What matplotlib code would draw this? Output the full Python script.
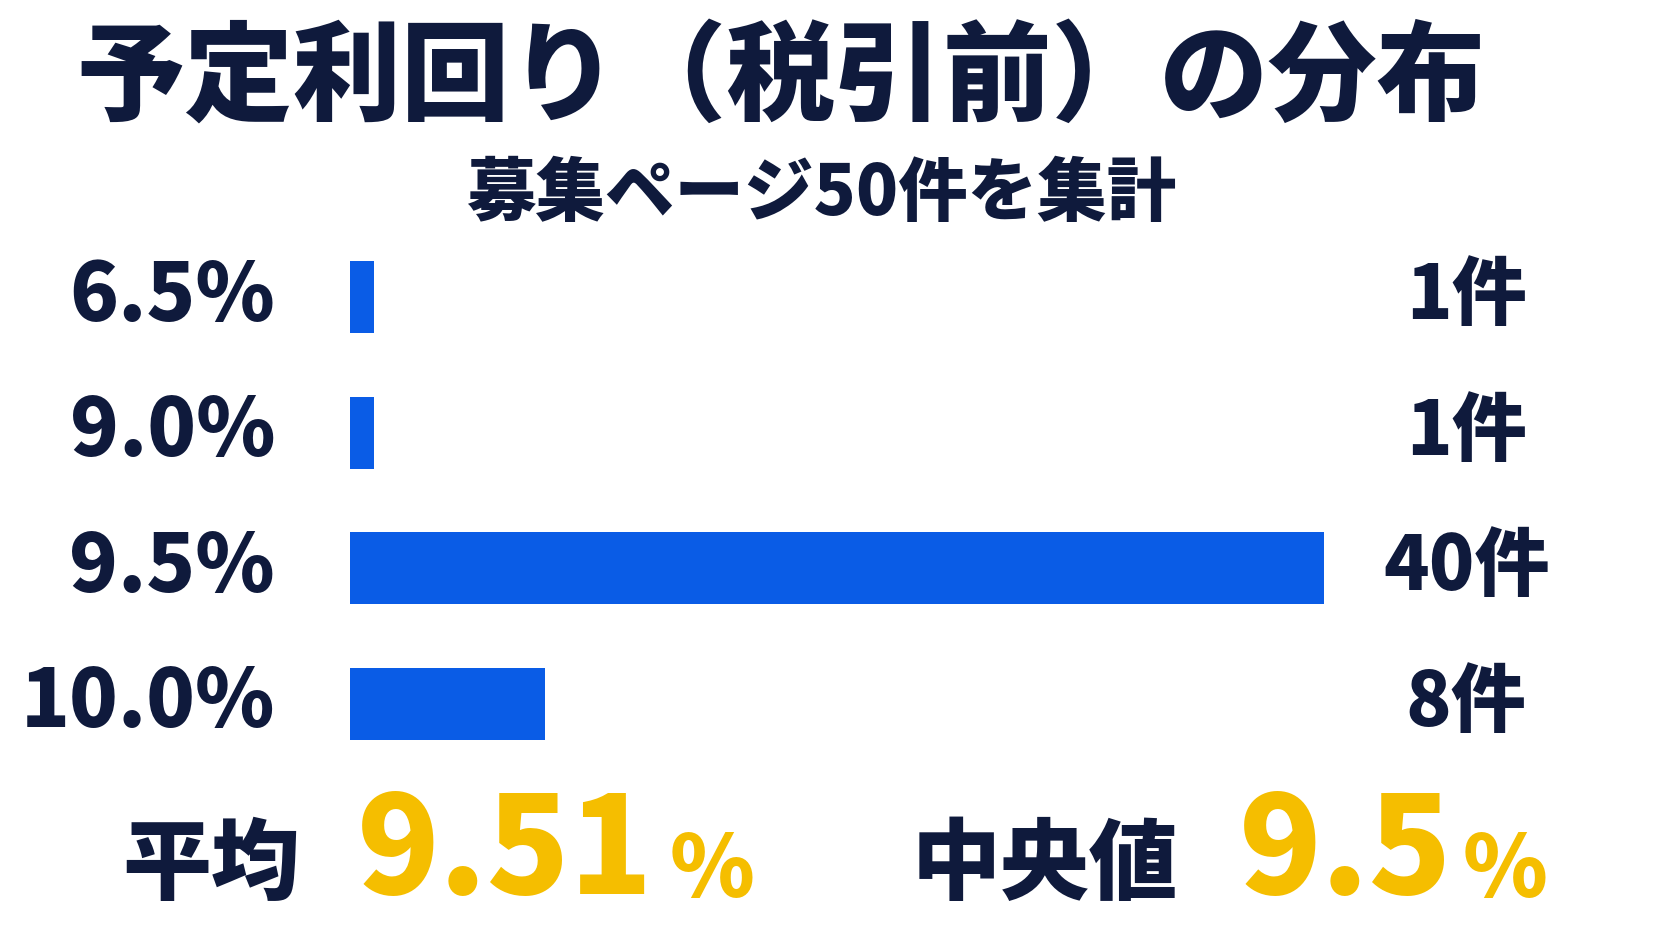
import matplotlib
matplotlib.use("Agg")
import matplotlib.pyplot as plt

plt.rcParams['font.family'] = ['Noto Sans CJK JP', 'DejaVu Sans']

categories = ["6.5%", "9.0%", "9.5%", "10.0%"]
counts = [1, 1, 40, 8]
count_labels = ["1件", "1件", "40件", "8件"]
title = "予定利回り（税引前）の分布"
subtitle = "募集ページ50件を集計"
mean_label, mean_value = "平均", "9.51"
median_label, median_value = "中央値", "9.5"

NAVY = "#0f1a3c"; BLUE = "#0a5ce6"; YEL = "#f5be00"
W, H = 1568, 882
fig = plt.figure(figsize=(16.72, 9.41), dpi=100)
fig.patch.set_facecolor("white")

def T(x, y, s, size, color=NAVY, ha="center", va="center"):
    fig.text(x / W, 1 - y / H, s, fontsize=size, color=color, ha=ha, va=va, fontweight="heavy")

T(732, 75, title, 78)
T(770, 182, subtitle, 50)

top, bot = 215, 723
ax = fig.add_axes([328 / W, 1 - bot / H, (1242 - 328) / W, (bot - top) / H])
ypos = list(range(len(categories)))
ax.barh(ypos, counts, height=0.53, color=BLUE)
ax.set_xlim(0, 40)
ax.set_ylim(len(categories) - 0.5, -0.5)
ax.axis("off")
for i, (c, lab) in enumerate(zip(categories, count_labels)):
    ax.text(-70 / 914 * 40, i, c, ha="right", va="center", fontsize=58, color=NAVY, fontweight="heavy")
    ax.text((1375 - 328) / 914 * 40, i, lab, ha="center", va="center", fontsize=54, color=NAVY, fontweight="heavy")

T(115, 812, mean_label, 64, ha="left")
T(335, 800, mean_value, 98, color=YEL, ha="left")
T(628, 817, "%", 62, color=YEL, ha="left")
T(855, 812, median_label, 64, ha="left")
T(1162, 800, median_value, 98, color=YEL, ha="left")
T(1372, 817, "%", 62, color=YEL, ha="left")

fig.savefig("out.png", dpi=100)
